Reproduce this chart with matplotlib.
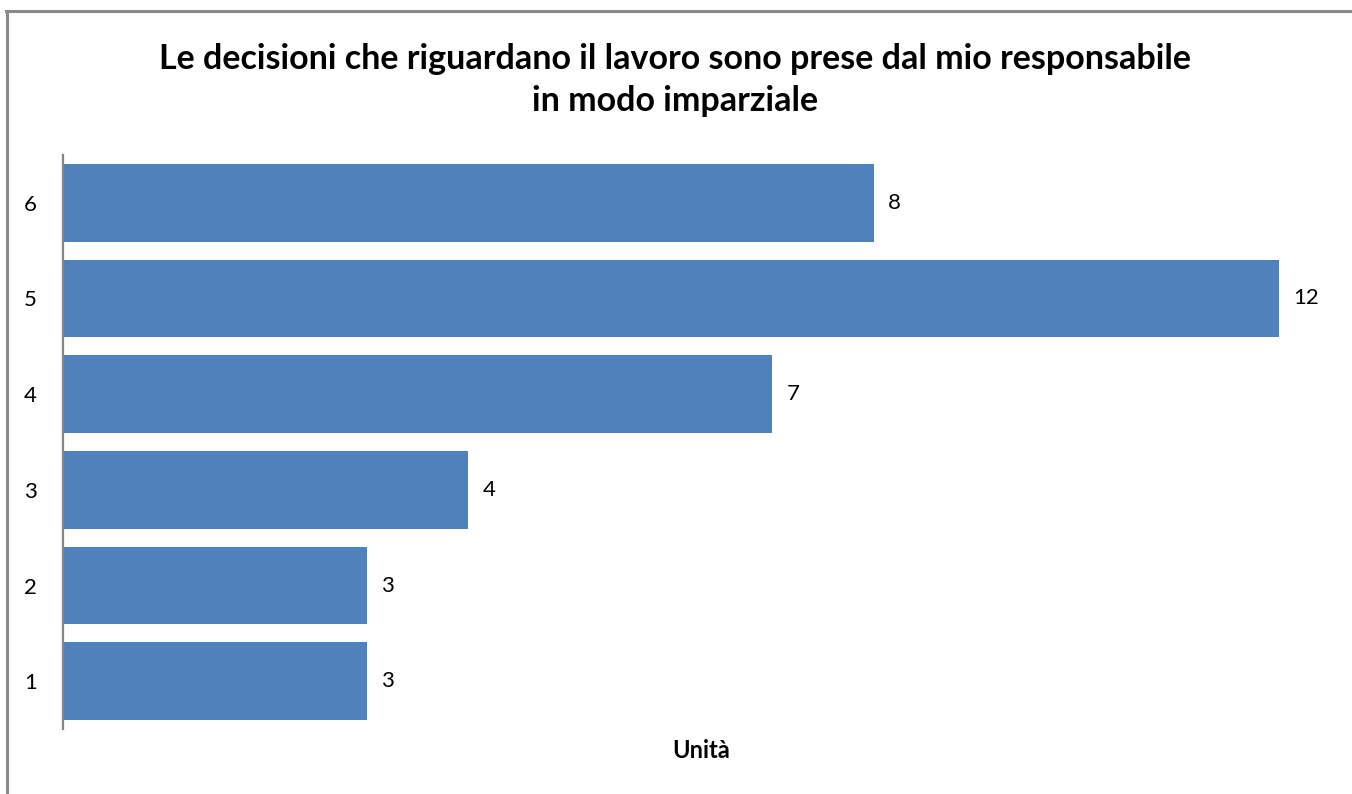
import matplotlib
matplotlib.use("Agg")
import matplotlib.pyplot as plt
from matplotlib.lines import Line2D

categories = ["1", "2", "3", "4", "5", "6"]
values = [3, 3, 4, 7, 12, 8]
title = "Le decisioni che riguardano il lavoro sono prese dal mio responsabile\nin modo imparziale"
xlabel = "Unità"

W, H = 1352, 794
fig = plt.figure(figsize=(W / 100, H / 100), dpi=100)
fig.patch.set_facecolor("white")

# plot area in pixel terms
left, right, top, bottom = 63, 1340, 155, 729
ax = fig.add_axes([left / W, 1 - bottom / H, (right - left) / W, (bottom - top) / H])

pos = list(range(len(categories)))
ax.barh(pos, values, height=0.81, color="#4F81BD", zorder=2)
ax.set_ylim(-0.5, len(categories) - 0.5)
ax.set_xlim(0, 12.6)

ax.set_yticks(pos)
ax.set_yticklabels(categories, fontfamily="Lato", fontsize=16)
ax.tick_params(axis="y", length=0, pad=19)
ax.set_xticks([])

for s in ["top", "right", "bottom"]:
    ax.spines[s].set_visible(False)
ax.spines["left"].set_color("#868686")
ax.spines["left"].set_linewidth(1.6)

for p, v in zip(pos, values):
    ax.annotate(str(v), (v, p), xytext=(14, 0), textcoords="offset pixels",
                ha="left", va="center", fontfamily="Lato", fontsize=16)

ax.set_xlabel(xlabel, fontfamily="Lato", fontweight="bold", fontsize=17, labelpad=7)

fig.text(675 / W, 1 - 80 / H, title, ha="center", va="center",
         fontfamily="Lato", fontweight="bold", fontsize=24.5, linespacing=1.42)

# outer chart frame
frame_kw = dict(color="#898989", linewidth=2.2, transform=None)
fig.add_artist(Line2D([7, 7], [0, H - 11], **frame_kw))
fig.add_artist(Line2D([6, W], [H - 11, H - 11], **frame_kw))

fig.savefig("out.png", dpi=100)
